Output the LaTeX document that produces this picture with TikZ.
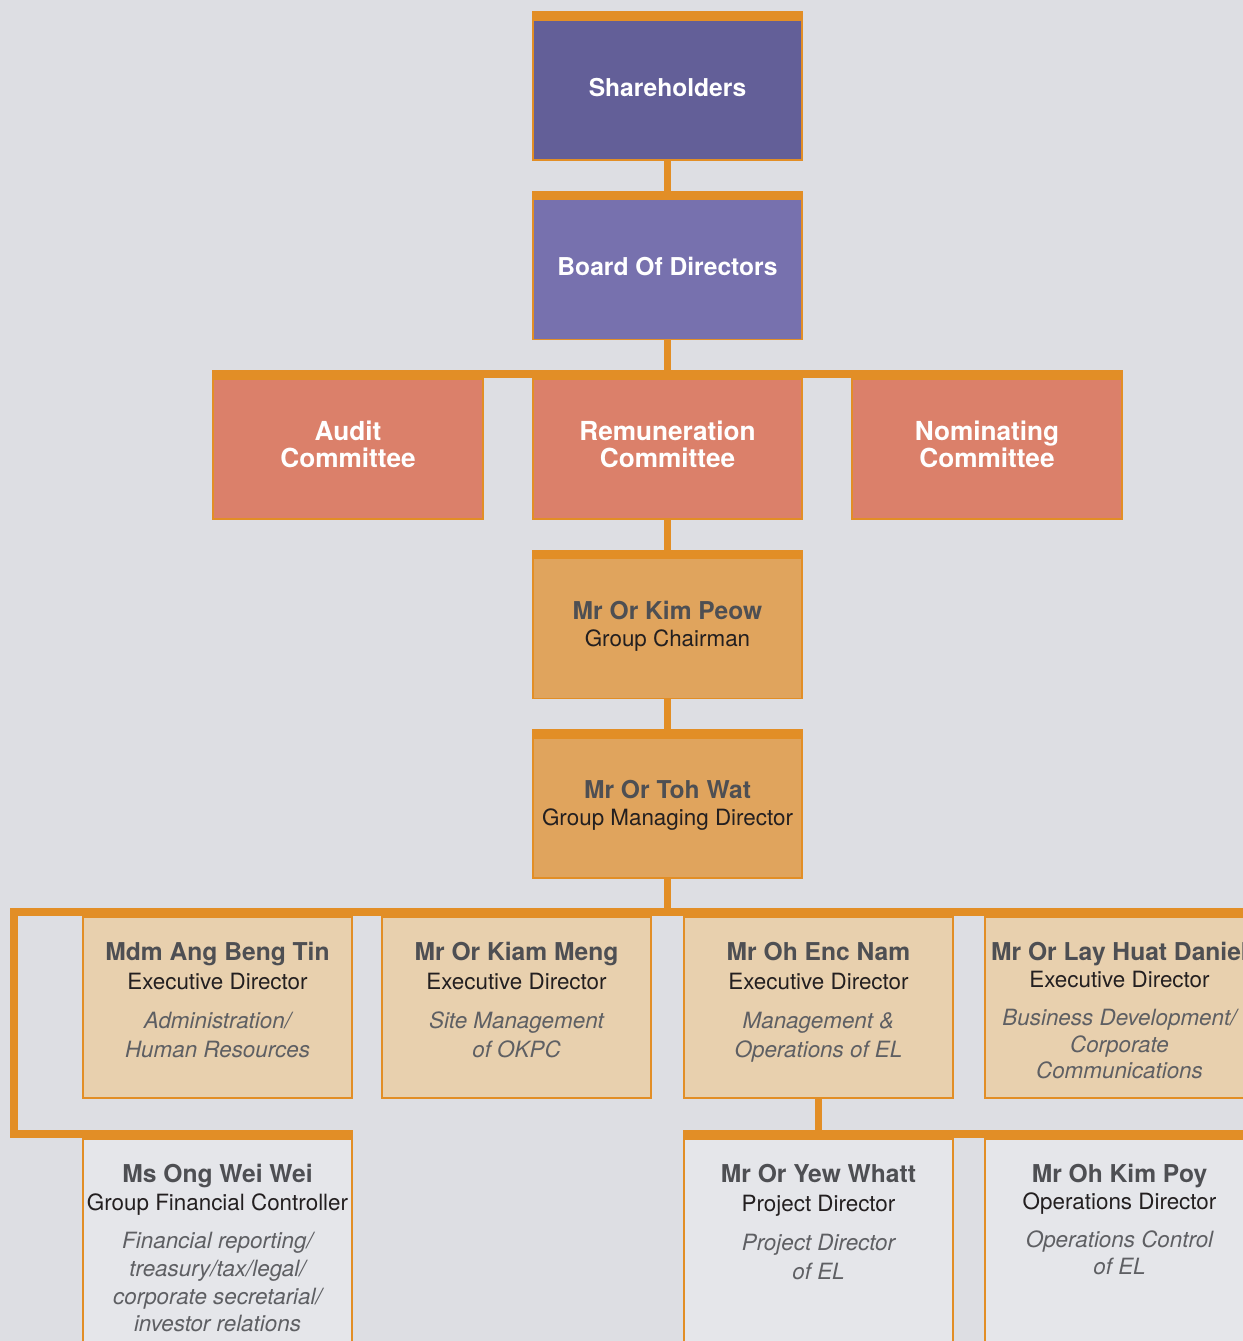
\documentclass[tikz,border=0pt]{standalone}
\usepackage{fontspec}
\setmainfont{TeX Gyre Heros}
\usetikzlibrary{positioning}

\definecolor{bgcol}{HTML}{DDDEE3}
\definecolor{barcol}{HTML}{E28E26}
\definecolor{shcol}{HTML}{635F98}
\definecolor{bdcol}{HTML}{7771AE}
\definecolor{cmcol}{HTML}{DB806A}
\definecolor{chcol}{HTML}{E0A45D}
\definecolor{excol}{HTML}{E8D0AE}
\definecolor{gfcol}{HTML}{E5E6EA}
\definecolor{namecol}{HTML}{4E4F53}
\definecolor{rolecol}{HTML}{231F20}
\definecolor{dutycol}{HTML}{5E5F63}

\newcommand{\nm}[1]{{\fontsize{12.3pt}{14pt}\selectfont\bfseries\color{namecol}#1}}
\newcommand{\du}[1]{{\itshape\color{dutycol}#1}}

\begin{document}
\begin{tikzpicture}
[   x=0.5pt, y=-0.5pt,
    cbox/.style={draw=barcol,line width=0.6pt,fill=#1,minimum width=134.5pt,minimum height=70pt,inner sep=0pt},
    bar/.style={draw=barcol,line width=4pt},
    link/.style={draw=barcol,line width=3.5pt},
    txt/.style={align=center,inner sep=0pt,font=\fontsize{11.2pt}{14.3pt}\selectfont,text=rolecol},
    head/.style={align=center,inner sep=0pt,font=\fontsize{12.3pt}{13.5pt}\selectfont\bfseries,text=#1},
    head/.default=white,
]
    \useasboundingbox (0,0) rectangle (1243,1341);
    \clip (0,0) rectangle (1243,1341);
    \fill[bgcol] (0,0) rectangle (1243,1341);

    % top of the chart
    \node[cbox=shcol] (share) at (667.5,90) {};
    \node[cbox=bdcol] (board) at (667.5,269.5) {};
    \node[cbox=cmcol,minimum width=135pt] (audit) at (348,449) {};
    \node[cbox=cmcol] (remun) at (667.5,449) {};
    \node[cbox=cmcol,minimum width=135pt] (nomin) at (987,449) {};
    \node[cbox=chcol] (chair) at (667.5,628.5) {};
    \node[cbox=chcol] (mgmt) at (667.5,808) {};

    \node[head] (t-share) at ([yshift=1.25pt]share.center) {Shareholders};
    \node[head] (t-board) at ([yshift=1.75pt]board.center) {Board Of Directors};
    \node[head,font=\fontsize{13.1pt}{13.5pt}\selectfont\bfseries] (t-audit) at ([yshift=2.25pt]audit.center) {Audit\\Committee};
    \node[head,font=\fontsize{13.1pt}{13.5pt}\selectfont\bfseries] (t-remun) at ([yshift=2.25pt]remun.center) {Remuneration\\Committee};
    \node[head,font=\fontsize{13.1pt}{13.5pt}\selectfont\bfseries] (t-nomin) at ([yshift=2.25pt]nomin.center) {Nominating\\Committee};
    \node[txt,font=\fontsize{11.2pt}{13.5pt}\selectfont] (t-chair) at ([yshift=1.25pt]chair.center) {\nm{Mr Or Kim Peow}\\Group Chairman};
    \node[txt,font=\fontsize{11.2pt}{13.5pt}\selectfont] (t-mgmt) at ([yshift=1.5pt]mgmt.center) {\nm{Mr Or Toh Wat}\\Group Managing Director};

    % executive directors and second row
    \foreach \n/\x in {ang/217.5,kiam/516.5,enc/818.5,lay/1119.5}
        \node[cbox=excol,minimum height=90.5pt] (\n) at (\x,1007.5) {};
    \foreach \n/\x in {ong/217.5,yew/818.5,poy/1119.5}
        \node[cbox=gfcol,minimum height=130pt] (\n) at (\x,1269) {};

    \node[txt,below=12.75pt of ang.north] (t-ang) {\nm{Mdm Ang Beng Tin}\\Executive Director\\[5.5pt]\du{Administration/}\\\du{Human Resources}};
    \node[txt,below=12.75pt of kiam.north] (t-kiam) {\nm{Mr Or Kiam Meng}\\Executive Director\\[5.5pt]\du{Site Management}\\\du{of OKPC}};
    \node[txt,below=12.75pt of enc.north] (t-enc) {\nm{Mr Oh Enc Nam}\\Executive Director\\[5.5pt]\du{Management \&}\\\du{Operations of EL}};
    \node[txt,below=12.75pt of lay.north,font=\fontsize{11.2pt}{13.4pt}\selectfont] (t-lay) {\nm{Mr Or Lay Huat Daniel}\\Executive Director\\[5.5pt]\du{Business Development/}\\\du{Corporate}\\\du{Communications}};
    \node[txt,below=12.75pt of ong.north,font=\fontsize{11.2pt}{13.8pt}\selectfont] (t-ong) {\nm{Ms Ong Wei Wei}\\Group Financial Controller\\[5.5pt]\du{Financial reporting/}\\\du{treasury/tax/legal/}\\\du{corporate secretarial/}\\\du{investor relations}};
    \node[txt,below=12.75pt of yew.north] (t-yew) {\nm{Mr Or Yew Whatt}\\Project Director\\[5.5pt]\du{Project Director}\\\du{of EL}};
    \node[txt,below=12.75pt of poy.north,font=\fontsize{11.2pt}{13.4pt}\selectfont] (t-poy) {\nm{Mr Oh Kim Poy}\\Operations Director\\[5.5pt]\du{Operations Control}\\\du{of EL}};

    % connectors
    \foreach \b in {share,board,chair,mgmt}
        \draw[bar] ([yshift=2pt]\b.north west) -- ([yshift=2pt]\b.north east);
    \foreach \a/\b in {share/board,board/remun,remun/chair,chair/mgmt}
        \draw[link] (\a) -- (\b);
    \draw[bar] ([yshift=2pt]audit.north west) -- ([yshift=2pt]nomin.north east);

    \coordinate (west) at (14,1000);
    \draw[link] (mgmt) -- (mgmt.south |- ang.north);
    \draw[bar,line join=miter] ([yshift=2pt]ong.north east) -| (west) |- ([yshift=2pt]lay.north east);
    \draw[link] (enc) -- (enc.south |- yew.north);
    \draw[bar] ([yshift=2pt]yew.north west) -- ([yshift=2pt]poy.north east);
\end{tikzpicture}
\end{document}
